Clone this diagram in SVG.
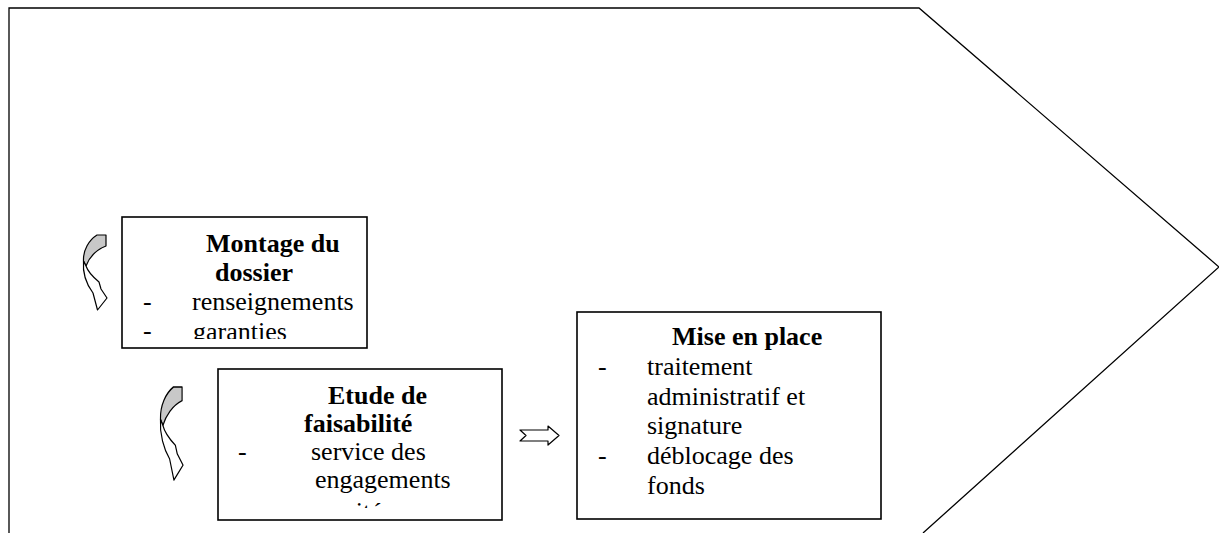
<svg xmlns="http://www.w3.org/2000/svg" width="1219" height="533" viewBox="0 0 1219 533">
<style>
.frame{fill:none;stroke:#000;stroke-width:1.3}
.box{fill:#fff;stroke:#000;stroke-width:1.6}
.t{font-family:"Liberation Serif","Times New Roman",serif;font-size:26px;fill:#000}
.b{font-weight:bold}
.arr{stroke:#000;stroke-width:1.2;stroke-linejoin:round}
.gray{fill:#c8c8c8}
.white{fill:#fff}
</style>
<defs>
<clipPath id="clip1"><rect x="120" y="215" width="250" height="124"/></clipPath>
<clipPath id="clip2"><rect x="215" y="366" width="290" height="142"/></clipPath>
<g id="curved">
<path class="arr gray" d="M14,0 L23,0 L23,11 C13,15 6,23 3,31 L0.5,26 C0,15 6,5 14,0 Z"/>
<path class="arr white" d="M0.5,26 C-0.5,38 4,50 10,58 L14.5,75 L24,63 L18,54 L16,47 C10,42 5,37 3,31 Z"/>
</g>
</defs>
<rect width="1219" height="533" fill="#fff"/>
<g id="frame">
<polyline class="frame" points="9,533 9,8 919,8 1219,267 923,533"/>
</g>
<g id="node-montage">
<rect class="box" x="122" y="217" width="245" height="131"/>
<g clip-path="url(#clip1)">
<text class="t b" x="206" y="252">Montage du</text>
<text class="t b" x="215" y="281">dossier</text>
<text class="t" x="143" y="310">-</text>
<text class="t" x="192" y="310">renseignements</text>
<text class="t" x="143" y="339">-</text>
<text class="t" x="193" y="340">garanties</text>
</g>
</g>
<g id="node-etude">
<rect class="box" x="218" y="369" width="284" height="151"/>
<g clip-path="url(#clip2)">
<text class="t b" x="328" y="404">Etude de</text>
<text class="t b" x="304" y="432">faisabilité</text>
<text class="t" x="238" y="460">-</text>
<text class="t" x="311" y="460">service des</text>
<text class="t" x="315" y="488">engagements</text>
<text class="t" x="311" y="520">comité</text>
</g>
</g>
<g id="node-mise">
<rect class="box" x="577" y="312" width="304" height="207"/>
<text class="t b" x="672" y="345">Mise en place</text>
<text class="t" x="598" y="375">-</text>
<text class="t" x="647" y="375">traitement</text>
<text class="t" x="647" y="405">administratif et</text>
<text class="t" x="647" y="434">signature</text>
<text class="t" x="598" y="464">-</text>
<text class="t" x="647" y="464">déblocage des</text>
<text class="t" x="647" y="494">fonds</text>
</g>
<g id="connectors">
<use href="#curved" transform="translate(83,235)"/>
<use href="#curved" transform="translate(160,387) scale(0.96,1.24)"/>
<path class="arr white" d="M520,430 L548,430 L548,426 L559,435.5 L548,445 L548,441 L520,441 L526,435.5 Z"/>
</g>
</svg>
